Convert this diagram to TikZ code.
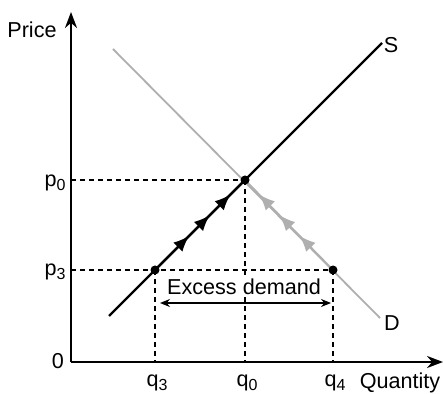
\documentclass[tikz,border=0pt]{standalone}
\usepackage{fontspec}
\setmainfont{Liberation Sans}
\usetikzlibrary{arrows.meta, positioning, decorations.markings}
\definecolor{demandgray}{RGB}{175,175,175}
\newcommand{\lowidx}[1]{{\fontsize{8}{9}\selectfont\raisebox{-0.45ex}{#1}}}

\begin{document}
\begin{tikzpicture}[
      x=0.5pt, y=-0.5pt,
      axis/.style={line width=1.2pt, -{Stealth[length=8pt, width=6pt]}},
      supply/.style={line width=1.1pt},
      demand/.style={line width=0.9pt, draw=demandgray},
      guide/.style={line width=0.6pt, dash pattern=on 2.5pt off 2pt},
      dot/.style={circle, fill, inner sep=0pt, minimum size=4.5pt},
      lbl/.style={font=\fontsize{10.8}{13}\selectfont, inner sep=1pt},
      flow/.style={postaction={decorate}, decoration={markings,
        mark=at position 0.38 with {\arrow[#1]{Latex[length=8pt, width=6.5pt]}},
        mark=at position 0.61 with {\arrow[#1]{Latex[length=8pt, width=6.5pt]}},
        mark=at position 0.84 with {\arrow[#1]{Latex[length=8pt, width=6.5pt]}}}}
    ]
      \useasboundingbox (0,0) rectangle (443,394);

      % axes
      \coordinate (origin) at (71,362);
      \coordinate (ytop) at (71,12);
      \coordinate (xend) at (443,362);
      \draw[axis] (origin) -- (ytop);
      \draw[axis] (origin) -- (xend);

      % points
      \coordinate (eq) at (245,180);
      \coordinate (sq3) at (155,270);
      \coordinate (dq4) at (333,270);
      \coordinate (slow) at (109,316);
      \coordinate (shigh) at (382,43);
      \coordinate (dhigh) at (113,49);
      \coordinate (dlow) at (380,318);

      % guides
      \draw[guide] (origin |- eq) -- (eq);
      \draw[guide] (origin |- sq3) -- (dq4);
      \draw[guide] (sq3) -- (sq3 |- origin);
      \draw[guide] (eq) -- (eq |- origin);
      \draw[guide] (dq4) -- (dq4 |- origin);

      % demand and supply
      \draw[demand] (dhigh) -- (dlow);
      \draw[demand, flow=demandgray] (dq4) -- (eq);
      \draw[supply] (slow) -- (shigh);
      \draw[supply, flow=black] (sq3) -- (eq);

      \node[dot] (eqdot) at (eq) {};
      \node[dot] (sq3dot) at (sq3) {};
      \node[dot] (dq4dot) at (dq4) {};

      % labels
      \node[lbl] (price) at (32,30) {Price};
      \node[lbl] (zero) at (58,361) {0};
      \node[lbl] (p0) at (55,183) {p\lowidx{0}};
      \node[lbl] (p3) at (55,272) {p\lowidx{3}};
      \node[lbl] (q3) at (157,383) {q\lowidx{3}};
      \node[lbl] (q0) at (247,383) {q\lowidx{0}};
      \node[lbl] (q4) at (335,383) {q\lowidx{4}};
      \node[lbl] (qty) at (400,383) {Quantity};
      \node[lbl] (slabel) at (391,45) {S};
      \node[lbl] (dlabel) at (392,323) {D};

      % excess demand
      \node[lbl, fill=white, inner sep=0.5pt] (excess) at (244,287) {Excess demand};
      \coordinate (exl) at (160,303);
      \coordinate (exr) at (331,303);
      \draw[line width=0.6pt, {Stealth[length=5pt, width=4pt]}-{Stealth[length=5pt, width=4pt]}] (exl) -- (exr);
    \end{tikzpicture}
\end{document}
